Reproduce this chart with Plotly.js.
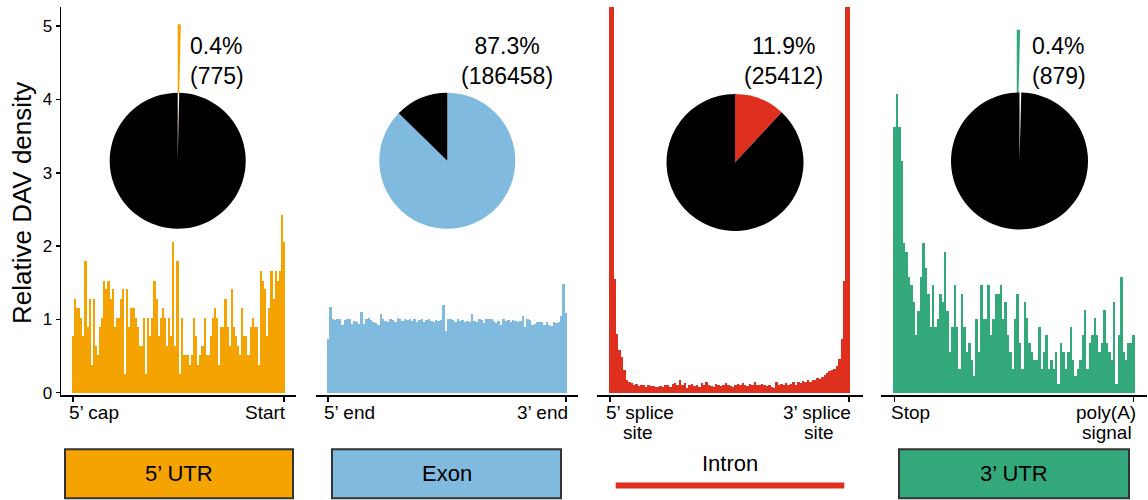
<!DOCTYPE html>
<html>
<head>
<meta charset="utf-8">
<script src="https://cdn.plot.ly/plotly-3.0.1.min.js"></script>
<style>html,body{margin:0;padding:0;background:#fff;}#chart{width:1148px;height:500px;}</style>
</head>
<body>
<div id="chart"></div>
<script>
// ---------------- DATA ----------------
const regions = ["5’ UTR", "Exon", "Intron", "3’ UTR"];
const startLabels = [["5’ cap"], ["5’ end"], ["5’ splice", "site"], ["Stop"]];
const endLabels = [["Start"], ["3’ end"], ["3’ splice", "site"], ["poly(A)", "signal"]];
const davCounts = [775, 186458, 25412, 879];

const utr5Density = [0.77,1.28,1.15,1.15,1.02,0.77,1.79,0.89,1.28,0.38,
  1.28,0.64,0.51,0.89,1.02,1.53,1.41,1.53,1.28,1.41,
  0.89,1.02,1.02,1.28,1.41,0.26,1.41,0.89,1.15,1.15,
  1.02,0.89,0.64,0.64,1.02,0.26,1.02,0.77,1.02,1.53,
  1.28,0.77,1.02,1.15,1.02,
  0.64,1.02,0.77,2.05,0.64,1.79,0.26,1.02,0.51,0.51,
  0.51,0.38,0.51,1.02,0.77,0.38,0.51,0.64,1.02,0.51,
  0.51,0.77,1.02,1.15,1.02,0.38,0.89,0.89,1.28,0.89,
  0.64,1.41,0.89,0.77,0.64,0.51,1.15,0.77,0.77,0.51,
  0.89,1.02,0.89,0.89,0.38,1.66,1.53,1.41,0.77,1.15,
  1.66,1.28,1.66,1.53,1.66,2.43,2.05];

const exonDensity = [0.73,1.17,1.00,0.99,1.00,1.00,0.93,0.99,1.00,1.00,
  0.94,0.98,0.97,0.94,1.10,0.94,1.00,1.02,0.99,0.97,
  0.95,0.92,1.07,1.00,0.98,0.96,1.01,0.99,0.97,1.02,
  1.00,0.98,1.00,0.99,1.01,0.98,1.00,0.97,0.99,1.01,
  0.96,0.99,1.00,0.98,0.97,0.99,0.98,0.99,1.20,0.84,
  1.00,1.00,0.99,0.97,1.00,0.98,0.99,0.96,0.98,0.97,
  1.08,0.98,0.97,1.00,0.99,0.95,1.00,1.01,1.00,0.98,
  0.95,0.98,0.93,1.00,0.98,0.99,0.97,0.99,0.98,0.96,
  0.98,1.04,0.90,1.00,0.99,0.93,0.94,0.96,0.97,0.96,
  0.93,0.96,0.92,0.91,0.97,0.95,0.96,1.04,1.48,1.09];

const intronDensity = [7.50,6.20,1.55,0.80,0.58,0.49,0.31,0.18,0.15,0.13,
  0.10,0.12,0.09,0.11,0.10,0.08,0.11,0.09,0.09,0.08,
  0.08,0.09,0.08,0.10,0.11,0.08,0.12,0.13,0.10,0.18,
  0.10,0.13,0.07,0.10,0.12,0.09,0.10,0.08,0.13,0.10,
  0.15,0.11,0.09,0.08,0.12,0.10,0.09,0.11,0.13,0.10,
  0.09,0.08,0.11,0.12,0.10,0.13,0.11,0.09,0.12,0.10,
  0.14,0.11,0.10,0.12,0.10,0.09,0.11,0.08,0.06,0.15,
  0.10,0.12,0.11,0.13,0.10,0.12,0.14,0.11,0.15,0.13,
  0.16,0.14,0.17,0.15,0.18,0.17,0.20,0.19,0.22,0.24,
  0.27,0.30,0.31,0.33,0.36,0.46,0.73,1.52,6.20,7.50];

const utr3Density = [3.62,4.08,3.62,3.16,2.04,1.92,1.58,1.47,1.24,0.79,
  1.12,1.58,2.04,1.70,1.35,0.90,1.47,0.90,1.01,1.35,
  1.24,1.92,1.12,0.56,0.90,1.47,0.90,0.33,1.35,0.90,
  0.56,0.68,0.45,0.23,1.01,0.56,1.47,1.01,1.01,1.47,
  0.79,1.01,1.35,1.35,1.47,1.01,1.24,0.79,0.56,0.33,
  1.01,1.35,0.68,0.33,1.24,1.02,0.68,0.56,0.45,0.45,
  0.90,0.33,0.56,0.79,0.33,0.45,0.33,0.56,0.12,0.68,
  0.56,0.33,0.56,0.90,0.45,0.23,0.33,0.45,0.79,1.13,
  0.33,0.68,0.79,1.02,0.79,0.56,0.68,1.13,0.68,0.56,
  0.45,1.24,0.12,0.79,1.58,0.56,0.45,0.68,0.68,0.79];

const yTicks = [0, 1, 2, 3, 4, 5];

// ---------------- STYLE / LAYOUT CONFIG ----------------
const W = 1148, H = 500;
const FONT = 'Liberation Sans, Arial, Helvetica, sans-serif';
const colors = ['#F5A300', '#80BADF', '#DF2F1E', '#33A87B'];
const series = [utr5Density, exonDensity, intronDensity, utr3Density];
const panels = [
  {d0: 61, d1: 296, t0: 73, t1: 284},
  {d0: 316, d1: 578, t0: 328, t1: 566},
  {d0: 597, d1: 863, t0: 610, t1: 849},
  {d0: 881, d1: 1147, t0: 894.5, t1: 1133.5}
];
const pies = [
  {cx: 177.7, cy: 160.8, r: 68, rBig: 136.5, textX: 188, anchor: 'left'},
  {cx: 447.3, cy: 160.8, r: 68, rBig: 0, textX: 506.5, anchor: 'center'},
  {cx: 735, cy: 162.5, r: 68.5, rBig: 0, textX: 783, anchor: 'center'},
  {cx: 1019.5, cy: 161, r: 68.5, rBig: 134, textX: 1030, anchor: 'left'}
];
const boxes = [
  {x0: 65, x1: 293, type: 'box'},
  {x0: 332, x1: 561, type: 'box'},
  {x0: 615.7, x1: 844.3, type: 'line'},
  {x0: 899, x1: 1129, type: 'box'}
];
const yBase = 392.7, yUnit = 73.3, plotTop = 7, plotBottom = 395;

const px = v => v / W;
const py = v => 1 - v / H;

function textWidth(str, size) {
  const c = document.createElement('canvas').getContext('2d');
  c.font = size + 'px "Liberation Sans"';
  return c.measureText(str).width;
}

const traces = [];
const layout = {
  width: W, height: H,
  margin: {l: 0, r: 0, t: 0, b: 0},
  paper_bgcolor: '#fff', plot_bgcolor: '#fff',
  showlegend: false,
  bargap: 0,
  font: {family: FONT, color: '#000'},
  yaxis: {
    domain: [py(plotBottom), py(plotTop)],
    range: [-(plotBottom - yBase) / yUnit, (yBase - plotTop) / yUnit],
    anchor: 'x',
    showline: true, linecolor: '#000', linewidth: 1.5,
    ticks: 'outside', ticklen: 4, tickwidth: 1.5, tickcolor: '#000',
    tickvals: yTicks, ticktext: yTicks.map(String),
    tickfont: {size: 17, family: FONT, color: '#000'},
    showgrid: false, zeroline: false, fixedrange: true
  },
  annotations: [],
  shapes: []
};

series.forEach((vals, i) => {
  const N = vals.length;
  const p = panels[i];
  const ppu = (p.t1 - p.t0) / (N - 1);
  const axName = i === 0 ? 'xaxis' : 'xaxis' + (i + 1);
  const axRef = i === 0 ? 'x' : 'x' + (i + 1);
  layout[axName] = {
    domain: [px(p.d0), px(p.d1)],
    range: [-(p.t0 - p.d0) / ppu, (N - 1) + (p.d1 - p.t1) / ppu],
    anchor: 'y',
    showline: true, linecolor: '#000', linewidth: 1.5,
    ticks: 'outside', ticklen: 5, tickwidth: 1.5, tickcolor: '#000',
    tickvals: [0, N - 1], showticklabels: false,
    showgrid: false, zeroline: false, fixedrange: true
  };
  traces.push({
    type: 'bar', xaxis: axRef, yaxis: 'y',
    x: vals.map((_, k) => k), y: vals,
    marker: {color: colors[i], line: {width: 0}},
    hoverinfo: 'skip'
  });

  const fs = 19;
  const sL = startLabels[i], eL = endLabels[i];
  const lineY = [412, 432];
  const wS = textWidth(sL[0], fs), wE = textWidth(eL[0], fs);
  sL.forEach((t, li) => {
    layout.annotations.push({
      xref: axRef, yref: 'paper', x: 0, y: py(lineY[li]),
      text: t, showarrow: false, font: {size: fs, family: FONT, color: '#000'},
      xanchor: li === 0 ? 'left' : 'center', yanchor: 'middle',
      xshift: li === 0 ? -6 : -6 + wS / 2
    });
  });
  eL.forEach((t, li) => {
    layout.annotations.push({
      xref: axRef, yref: 'paper', x: N - 1, y: py(lineY[li]),
      text: t, showarrow: false, font: {size: fs, family: FONT, color: '#000'},
      xanchor: li === 0 ? 'right' : 'center', yanchor: 'middle',
      xshift: li === 0 ? 4 : 4 - wE / 2
    });
  });

  const b = boxes[i];
  if (b.type === 'box') {
    layout.shapes.push({
      type: 'rect', xref: 'paper', yref: 'paper',
      x0: px(b.x0), x1: px(b.x1), y0: py(498.3), y1: py(449.3),
      fillcolor: colors[i], line: {color: '#333', width: 2}
    });
    layout.annotations.push({
      xref: 'paper', yref: 'paper', x: px((b.x0 + b.x1) / 2), y: py(473),
      text: regions[i], showarrow: false, font: {size: 22, family: FONT, color: '#000'},
      xanchor: 'center', yanchor: 'middle'
    });
  } else {
    layout.shapes.push({
      type: 'line', xref: 'paper', yref: 'paper',
      x0: px(b.x0), x1: px(b.x1), y0: py(485.5), y1: py(485.5),
      line: {color: colors[i], width: 6}
    });
    layout.annotations.push({
      xref: 'paper', yref: 'paper', x: px((b.x0 + b.x1) / 2), y: py(463),
      text: regions[i], showarrow: false, font: {size: 22, family: FONT, color: '#000'},
      xanchor: 'center', yanchor: 'middle'
    });
  }
});

const total = davCounts.reduce((a, b) => a + b, 0);
davCounts.forEach((c, i) => {
  const pc = pies[i];
  const vals = [c, total - c];
  if (pc.rBig > 0) {
    traces.push({
      type: 'pie', values: vals, sort: false, direction: 'clockwise', rotation: 0,
      domain: {x: [px(pc.cx - pc.rBig), px(pc.cx + pc.rBig)], y: [py(pc.cy + pc.rBig), py(pc.cy - pc.rBig)]},
      marker: {colors: [colors[i], 'rgba(0,0,0,0)'], line: {width: 0}},
      textinfo: 'none', hoverinfo: 'skip', showlegend: false
    });
  }
  traces.push({
    type: 'pie', values: vals, sort: false, direction: 'clockwise', rotation: 0,
    domain: {x: [px(pc.cx - pc.r), px(pc.cx + pc.r)], y: [py(pc.cy + pc.r), py(pc.cy - pc.r)]},
    marker: {colors: [pc.rBig > 0 ? '#fff' : colors[i], '#000'], line: {width: 0}},
    textinfo: 'none', hoverinfo: 'skip', showlegend: false
  });
  const pct = (c / total * 100).toFixed(1) + '%';
  layout.annotations.push({
    xref: 'paper', yref: 'paper', x: px(pc.textX), y: py(61),
    text: pct + '<br>(' + c + ')', showarrow: false,
    font: {size: 23, family: FONT, color: '#000'},
    xanchor: pc.anchor, yanchor: 'middle', align: pc.anchor === 'left' ? 'left' : 'center'
  });
});

layout.annotations.push({
  xref: 'paper', yref: 'paper', x: px(22), y: py(203),
  text: 'Relative DAV density', textangle: -90, showarrow: false,
  font: {size: 26, family: FONT, color: '#000'},
  xanchor: 'center', yanchor: 'middle'
});

Plotly.newPlot('chart', traces, layout, {displayModeBar: false, staticPlot: true});
</script>
</body>
</html>
